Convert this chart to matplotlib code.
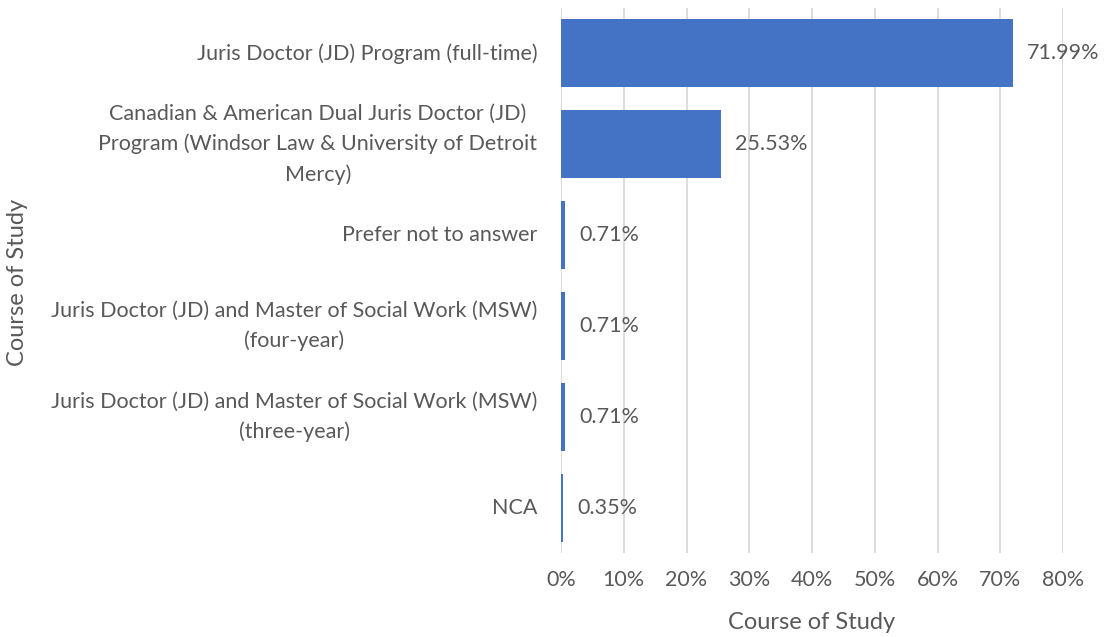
import matplotlib
matplotlib.use("Agg")
import matplotlib.pyplot as plt
from matplotlib.ticker import PercentFormatter

plt.rcParams['font.family'] = ['Lato', 'DejaVu Sans']

# data, top to bottom as shown
categories = [
    "Juris Doctor (JD) Program (full-time)",
    "Canadian & American Dual Juris Doctor (JD)\nProgram (Windsor Law & University of Detroit\nMercy)",
    "Prefer not to answer",
    "Juris Doctor (JD) and Master of Social Work (MSW)\n(four-year)",
    "Juris Doctor (JD) and Master of Social Work (MSW)\n(three-year)",
    "NCA",
]
shares = [71.99, 25.53, 0.71, 0.71, 0.71, 0.35]

txt = '#595959'
blue = '#4472C4'

fig = plt.figure(figsize=(11.05, 6.37), dpi=100)
ax = fig.add_axes([561 / 1105, 1 - 553 / 637, (1063 - 561) / 1105, (553 - 8) / 637])

ypos = list(range(len(categories)))
ax.barh(ypos, shares, height=0.75, color=blue, zorder=3)
ax.set_ylim(len(categories) - 0.5, -0.5)
ax.set_xlim(0, 80)
ax.set_yticks(ypos)
ax.set_yticklabels(categories, fontsize=15.5, color=txt, linespacing=1.6)
for lbl in ax.get_yticklabels():
    lbl.set_multialignment('center')
    lbl.set_verticalalignment('center')
ax.xaxis.set_major_formatter(PercentFormatter(decimals=0))
ax.set_xticks(range(0, 81, 10))
ax.tick_params(axis='x', labelsize=15.5, colors=txt, length=0, pad=12)
ax.tick_params(axis='y', length=0, pad=17)

ax.grid(axis='x', color='#D9D9D9', linewidth=1.3, zorder=0)
for s in ax.spines.values():
    s.set_visible(False)

for y, v in zip(ypos, shares):
    ax.annotate(f"{v:.2f}%", (v, y), xytext=(10, 0), textcoords='offset points',
                va='center', ha='left', fontsize=15.5, color=txt)

ax.set_xlabel("Course of Study", fontsize=17, color=txt, labelpad=16)
fig.text(18 / 1105, 1 - 282 / 637, "Course of Study", rotation=90, fontsize=17,
         color=txt, ha='center', va='center')

fig.savefig("out.png", dpi=100)
